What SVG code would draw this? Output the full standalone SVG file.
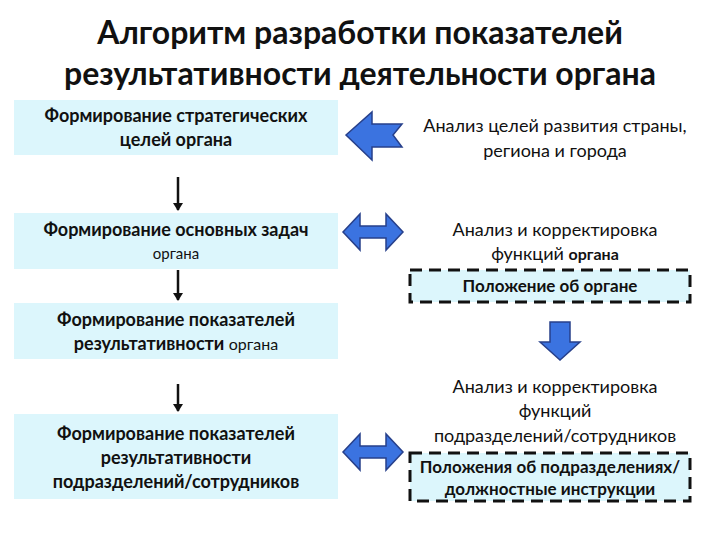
<svg xmlns="http://www.w3.org/2000/svg" width="720" height="540" viewBox="0 0 720 540">
<defs>
<style>
.box{fill:#dcf6fc}
.dash{fill:#dcf6fc;stroke:#111;stroke-width:3;stroke-dasharray:12,7}
text{font-family:Lato,"Open Sans",sans-serif;text-anchor:middle;fill:#111}
.b{font-weight:bold;font-size:18px}
.r{font-size:18px}
.t{font-weight:bold;font-size:32px}
.blue{fill:#3b73e0;stroke:#27408b;stroke-width:1.5}
</style>
<marker id="ah" markerWidth="8" markerHeight="10" refX="7" refY="5" orient="auto" markerUnits="userSpaceOnUse"><path d="M0,0 L8,5 L0,10 Z" fill="#111"/></marker>
</defs>
<rect width="720" height="540" fill="#fff"/>
<text class="t" x="360" y="44">Алгоритм разработки показателей</text>
<text class="t" x="360" y="85">результативности деятельности органа</text>
<g id="n1"><rect class="box" x="14" y="100" width="324" height="55"/><text class="b" x="176" y="122">Формирование стратегических</text><text class="b" x="176" y="146">целей органа</text></g>
<g id="n2"><rect class="box" x="14" y="213" width="324" height="56"/><text class="b" x="176" y="236">Формирование основных задач</text><text x="176" y="259" style="font-size:15px">органа</text></g>
<g id="n3"><rect class="box" x="14" y="303" width="324" height="56"/><text class="b" x="176" y="326">Формирование показателей</text><text class="b" x="176" y="350">результативности <tspan style="font-weight:normal;font-size:16px">органа</tspan></text></g>
<g id="n4"><rect class="box" x="14" y="414" width="324" height="85"/><text class="b" x="176" y="440">Формирование показателей</text><text class="b" x="176" y="464">результативности</text><text class="b" x="176" y="488">подразделений/сотрудников</text></g>
<g id="r1"><text class="r" x="555" y="132">Анализ целей развития страны,</text><text class="r" x="555" y="157">региона и города</text></g>
<g id="r2"><text class="r" x="555" y="236">Анализ и корректировка</text><text class="r" x="555" y="260">функций <tspan style="font-weight:bold;font-size:16px">органа</tspan></text></g>
<g id="d1"><rect class="dash" x="410" y="270" width="280" height="32"/><text class="b" x="550" y="292" style="font-size:17px">Положение об органе</text></g>
<g id="r3"><text class="r" x="555" y="393">Анализ и корректировка</text><text class="r" x="555" y="417">функций</text><text class="r" x="555" y="442">подразделений/сотрудников</text></g>
<g id="d2"><rect class="dash" x="410" y="453" width="280" height="48"/><text class="b" x="550" y="473" style="font-size:17px">Положения об подразделениях/</text><text class="b" x="550" y="495" style="font-size:17px">должностные инструкции</text></g>
<g id="connectors">
<line x1="178" y1="177" x2="178" y2="210" stroke="#111" stroke-width="2.5" marker-end="url(#ah)"/>
<line x1="178" y1="270" x2="178" y2="300" stroke="#111" stroke-width="2.5" marker-end="url(#ah)"/>
<line x1="178" y1="384" x2="178" y2="411" stroke="#111" stroke-width="2.5" marker-end="url(#ah)"/>
<path class="blue" d="M346,135 L372,112 L372,124 L402,124 L393,135 L402,147 L372,147 L372,160 Z"/>
<path class="blue" d="M343,232 L360,214 L360,226 L386,226 L386,214 L403,232 L386,250 L386,238 L360,238 L360,250 Z"/>
<path class="blue" d="M343,452 L360,434 L360,446 L386,446 L386,434 L403,452 L386,470 L386,458 L360,458 L360,470 Z"/>
<path class="blue" d="M550,322 L570,322 L570,342 L580,342 L560,360 L540,342 L550,342 Z"/>
</g>
</svg>
